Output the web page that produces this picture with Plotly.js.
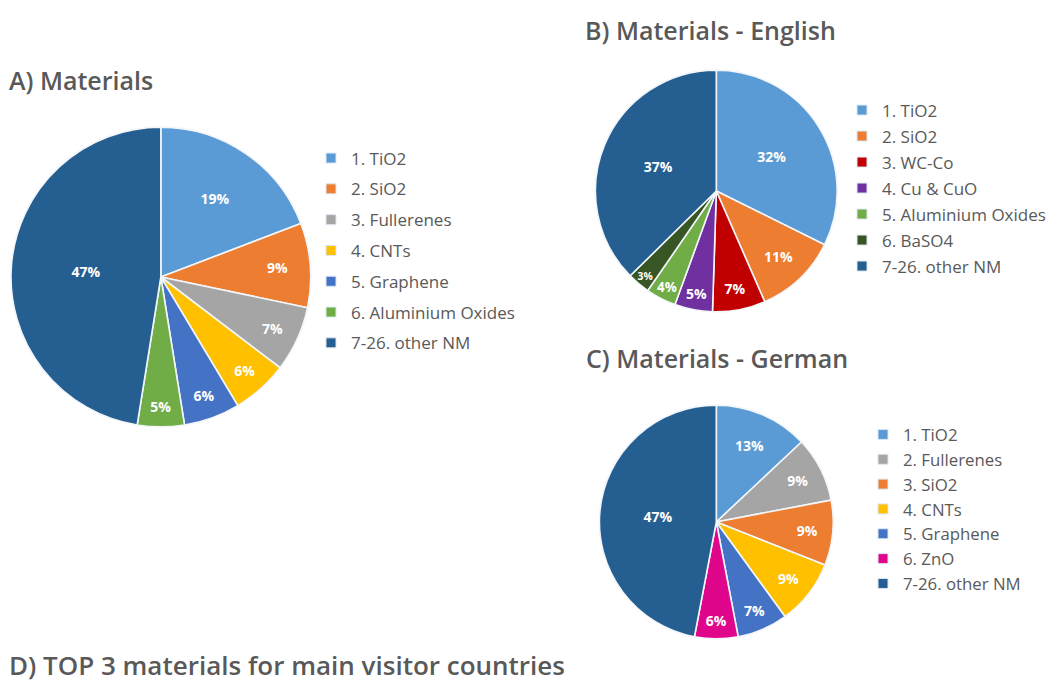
<!DOCTYPE html>
<html>
<head>
<meta charset="utf-8">
<script src="https://cdn.plot.ly/plotly-3.0.1.min.js"></script>
<style>html,body{margin:0;padding:0;background:#fff;}#chart{width:1051px;height:683px;}</style>
</head>
<body>
<div id="chart"></div>
<script>
// ---- Data ----
var labelsA = ["1. TiO2", "2. SiO2", "3. Fullerenes", "4. CNTs", "5. Graphene", "6. Aluminium Oxides", "7-26. other NM"];
var valuesA = [19, 9, 7, 6, 6, 5, 47];
var colorsA = ["#5B9BD5", "#ED7D31", "#A5A5A5", "#FFC000", "#4472C4", "#70AD47", "#255E91"];

var labelsB = ["1. TiO2", "2. SiO2", "3. WC-Co", "4. Cu & CuO", "5. Aluminium Oxides", "6. BaSO4", "7-26. other NM"];
var valuesB = [32, 11, 7, 5, 4, 3, 37];
var colorsB = ["#5B9BD5", "#ED7D31", "#C00000", "#7030A0", "#70AD47", "#375623", "#255E91"];

var labelsC = ["1. TiO2", "2. Fullerenes", "3. SiO2", "4. CNTs", "5. Graphene", "6. ZnO", "7-26. other NM"];
var valuesC = [13, 9, 9, 9, 7, 6, 47];
var colorsC = ["#5B9BD5", "#A5A5A5", "#ED7D31", "#FFC000", "#4472C4", "#E0068C", "#255E91"];

var titles = ["A) Materials", "B) Materials - English", "C) Materials - German", "D) TOP 3 materials for main visitor countries"];

// ---- Layout helpers ----
var W = 1051, H = 683;
function dom(cx, cy, r) {
  return { x: [(cx - r) / W, (cx + r) / W], y: [1 - (cy + r) / H, 1 - (cy - r) / H] };
}
var txtFont = { family: "Open Sans, sans-serif", size: 14, color: "#ffffff", weight: "bold" };

function pie(labels, values, colors, d) {
  return {
    type: "pie", labels: labels, values: values, sort: false, direction: "clockwise", rotation: 0,
    domain: d, showlegend: false, hole: 0,
    marker: { colors: colors, line: { color: "#f2f6fb", width: 1.6 } },
    textinfo: "text", text: values.map(function (v) { return v + "%"; }),
    textposition: "inside", insidetextorientation: "horizontal",
    textfont: txtFont, hoverinfo: "label+percent"
  };
}

function legendTraces(labels, colors, legendId) {
  return labels.map(function (l, i) {
    return {
      type: "scatter", mode: "markers", x: [null], y: [null], name: l,
      legend: legendId, legendgroup: legendId + "_" + i,
      marker: { symbol: "square", size: 10, color: colors[i], line: { color: "#dbe7f3", width: 1 } },
      hoverinfo: "skip"
    };
  });
}

var data = [
  pie(labelsA, valuesA, colorsA, dom(161, 277, 150)),
  pie(labelsB, valuesB, colorsB, dom(717, 191, 121)),
  pie(labelsC, valuesC, colorsC, dom(717, 522, 117))
].concat(legendTraces(labelsA, colorsA, "legend"))
 .concat(legendTraces(labelsB, colorsB, "legend2"))
 .concat(legendTraces(labelsC, colorsC, "legend3"));

function legFont(s) { return { family: "Open Sans, sans-serif", size: s, color: "#595959" }; }
function leg(x, y, gap, s) {
  return { x: x / W, y: 1 - y / H, xanchor: "left", yanchor: "top", font: legFont(s),
           traceorder: "grouped", tracegroupgap: gap, bgcolor: "rgba(0,0,0,0)", borderwidth: 0 };
}

function ann(text, x, y, s) {
  return { text: text, x: x / W, y: 1 - y / H, xref: "paper", yref: "paper", xanchor: "left", yanchor: "middle",
           showarrow: false, borderpad: 0,
           font: { family: "Open Sans, sans-serif", size: s, color: "#595959", weight: 600 } };
}

var layout = {
  width: W, height: H, margin: { l: 0, r: 0, t: 0, b: 0 },
  paper_bgcolor: "#ffffff", plot_bgcolor: "#ffffff",
  xaxis: { visible: false }, yaxis: { visible: false },
  legend: leg(311, 140.5, 5.7, 17),
  legend2: leg(843, 92.5, 0.9, 17),
  legend3: leg(863, 417, 0, 16.8),
  annotations: [
    ann(titles[0], 8, 80, 25),
    ann(titles[1], 585, 30, 25),
    ann(titles[2], 586, 358, 25),
    ann(titles[3], 8, 665, 26)
  ]
};

Plotly.newPlot("chart", data, layout, { displayModeBar: false, staticPlot: true });
</script>
</body>
</html>
